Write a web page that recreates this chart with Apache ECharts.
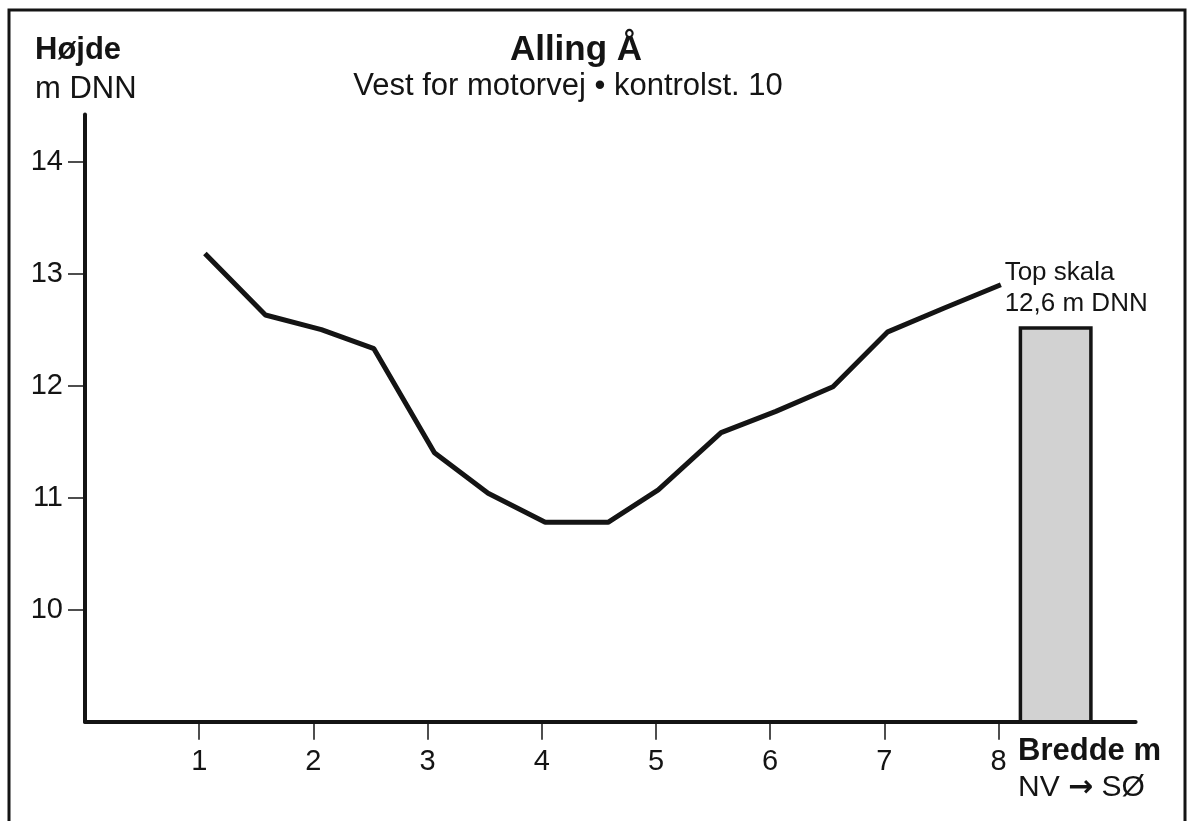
<!DOCTYPE html>
<html>
<head>
<meta charset="utf-8">
<script src="https://cdn.jsdelivr.net/npm/echarts@6/dist/echarts.min.js"></script>
<style>
html,body{margin:0;padding:0;background:#fff;}
#chart{width:1192px;height:821px;}
</style>
</head>
<body>
<div id="chart"></div>
<script>
// ---- data ----
var titleText = 'Alling Å';
var subtitleText = 'Vest for motorvej • kontrolst. 10';
var yAxisTitle = ['Højde', 'm DNN'];
var xAxisTitle = ['Bredde m', 'NV', '→', 'SØ'];
var xTickValues = [1, 2, 3, 4, 5, 6, 7, 8];
var yTickValues = [10, 11, 12, 13, 14];
// profile: distance (m) and height (m DNN)
var profileX = [1.05, 1.58, 2.07, 2.53, 3.06, 3.53, 4.03, 4.58, 5.02, 5.57, 6.05, 6.55, 7.03, 7.52, 8.02];
var profileY = [13.18, 12.63, 12.50, 12.33, 11.40, 11.04, 10.78, 10.78, 11.07, 11.58, 11.77, 11.99, 12.48, 12.69, 12.90];
// scale top marker
var scaleX = [8.5];
var scaleTop = [12.53];
var scaleLabel = ['Top skala', '12,6 m DNN'];

var FONT = '"Liberation Sans", Arial, Helvetica, sans-serif';
var INK = '#141414';

var lineData = profileX.map(function (x, i) { return [x, profileY[i]]; });
var barData = scaleX.map(function (x, i) { return [x, scaleTop[i]]; });

var chart = echarts.init(document.getElementById('chart'), null, {renderer: 'canvas'});
chart.setOption({
  backgroundColor: '#ffffff',
  animation: false,
  grid: {
    left: 85, top: 114.5, width: 1050.6, height: 607.2,
    containLabel: false, outerBoundsMode: 'none'
  },
  xAxis: {
    type: 'value', min: 0, max: 9.2,
    axisLine: {show: true, onZero: false, lineStyle: {color: INK, width: 4}},
    axisTick: {show: true, customValues: xTickValues, length: 18, lineStyle: {color: INK, width: 1.5}},
    axisLabel: {show: true, customValues: xTickValues, margin: 26, fontSize: 29, color: INK, fontFamily: FONT},
    splitLine: {show: false}
  },
  yAxis: {
    type: 'value', min: 9, max: 14.42,
    axisLine: {show: true, onZero: false, lineStyle: {color: INK, width: 4}},
    axisTick: {show: true, customValues: yTickValues, length: 17, lineStyle: {color: INK, width: 1.5}},
    axisLabel: {show: true, customValues: yTickValues, margin: 22, fontSize: 29, color: INK, fontFamily: FONT},
    splitLine: {show: false}
  },
  series: [
    {
      type: 'bar',
      data: barData,
      barWidth: 74,
      itemStyle: {color: '#d2d2d2', borderColor: INK, borderWidth: 3.5},
      label: {
        show: true, position: 'top', align: 'left', offset: [-51, -2],
        formatter: scaleLabel.join('\n'),
        fontSize: 26, lineHeight: 31, color: INK, fontFamily: FONT
      },
      z: 2
    },
    {
      type: 'line',
      data: lineData,
      symbol: 'none',
      lineStyle: {color: INK, width: 5},
      z: 3
    }
  ],
  graphic: [
    {type: 'rect', shape: {x: 9, y: 10, width: 1176, height: 840},
     style: {fill: 'none', stroke: INK, lineWidth: 3}, silent: true},
    {type: 'text', x: 576, y: 50, style: {text: titleText, font: 'bold 35px ' + FONT, fill: INK, align: 'center', verticalAlign: 'middle'}},
    {type: 'text', x: 568, y: 86, style: {text: subtitleText, font: '31px ' + FONT, fill: INK, align: 'center', verticalAlign: 'middle'}},
    {type: 'text', x: 35, y: 50, style: {text: yAxisTitle[0], font: 'bold 31px ' + FONT, fill: INK, align: 'left', verticalAlign: 'middle'}},
    {type: 'text', x: 35, y: 89, style: {text: yAxisTitle[1], font: '31px ' + FONT, fill: INK, align: 'left', verticalAlign: 'middle'}},
    {type: 'text', x: 1018, y: 751, style: {text: xAxisTitle[0], font: 'bold 31px ' + FONT, fill: INK, align: 'left', verticalAlign: 'middle'}},
    {type: 'text', x: 1018, y: 788, style: {
      text: '{a|' + xAxisTitle[1] + ' }{b|' + xAxisTitle[2] + '}{a| ' + xAxisTitle[3] + '}',
      fill: INK, align: 'left', verticalAlign: 'middle',
      rich: {
        a: {fontSize: 30, fontFamily: FONT, fill: INK, color: INK},
        b: {fontSize: 30, fontWeight: 'bold', fontFamily: '"DejaVu Sans", sans-serif', fill: INK, color: INK}
      }
    }}
  ]
});
</script>
</body>
</html>
